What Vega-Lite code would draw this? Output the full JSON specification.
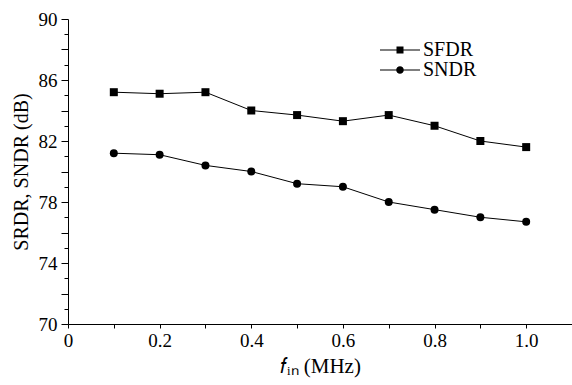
{
  "$schema": "https://vega.github.io/schema/vega-lite/v6.json",
  "width": 504,
  "height": 305,
  "autosize": {"type": "none"},
  "padding": {"left": 68, "top": 19, "right": 0, "bottom": 61},
  "background": "white",
  "config": {
    "view": {"stroke": null},
    "font": "Liberation Serif",
    "axis": {"labelFont": "Liberation Serif", "titleFont": "Liberation Serif"},
    "legend": {"labelFont": "Liberation Serif", "titleFont": "Liberation Serif"}
  },
  "data": {
    "values": [
      {"f": 0.1, "series": "SFDR", "v": 85.2},
      {"f": 0.2, "series": "SFDR", "v": 85.1},
      {"f": 0.3, "series": "SFDR", "v": 85.2},
      {"f": 0.4, "series": "SFDR", "v": 84.0},
      {"f": 0.5, "series": "SFDR", "v": 83.7},
      {"f": 0.6, "series": "SFDR", "v": 83.3},
      {"f": 0.7, "series": "SFDR", "v": 83.7},
      {"f": 0.8, "series": "SFDR", "v": 83.0},
      {"f": 0.9, "series": "SFDR", "v": 82.0},
      {"f": 1.0, "series": "SFDR", "v": 81.6},
      {"f": 0.1, "series": "SNDR", "v": 81.2},
      {"f": 0.2, "series": "SNDR", "v": 81.1},
      {"f": 0.3, "series": "SNDR", "v": 80.4},
      {"f": 0.4, "series": "SNDR", "v": 80.0},
      {"f": 0.5, "series": "SNDR", "v": 79.2},
      {"f": 0.6, "series": "SNDR", "v": 79.0},
      {"f": 0.7, "series": "SNDR", "v": 78.0},
      {"f": 0.8, "series": "SNDR", "v": 77.5},
      {"f": 0.9, "series": "SNDR", "v": 77.0},
      {"f": 1.0, "series": "SNDR", "v": 76.7}
    ]
  },
  "encoding": {
    "x": {
      "field": "f",
      "type": "quantitative",
      "scale": {"domain": [0, 1.1], "nice": false, "zero": false},
      "axis": {
        "values": [0, 0.1, 0.2, 0.3, 0.4, 0.5, 0.6, 0.7, 0.8, 0.9, 1.0],
        "labelExpr": "round(datum.value * 10) % 2 == 0 ? (datum.value == 0 ? '0' : format(datum.value, '.1f')) : ''",
        "grid": false,
        "domainColor": "black",
        "tickColor": "black",
        "tickSize": 4,
        "labelColor": "black",
        "labelFontSize": 19,
        "labelPadding": 3,
        "labelOverlap": false,
        "labelFlush": false,
        "title": "𝑓ᵢₙ (MHz)",
        "titleFontSize": 21,
        "titleFontWeight": "normal",
        "titleColor": "black",
        "titlePadding": 5
      }
    },
    "y": {
      "field": "v",
      "type": "quantitative",
      "scale": {"domain": [70, 90], "nice": false, "zero": false},
      "axis": {
        "values": [70, 71, 72, 73, 74, 75, 76, 77, 78, 79, 80, 81, 82, 83, 84, 85, 86, 87, 88, 89, 90],
        "labelExpr": "(datum.value - 70) % 4 == 0 ? datum.label : ''",
        "grid": false,
        "domainColor": "black",
        "tickColor": "black",
        "tickSize": {"condition": {"test": "datum.value % 2 == 0", "value": 7}, "value": 4},
        "labelColor": "black",
        "labelFontSize": 19,
        "labelPadding": 4,
        "labelOverlap": false,
        "labelFlush": false,
        "title": "SRDR, SNDR (dB)",
        "titleFontSize": 20,
        "titleFontWeight": "normal",
        "titleColor": "black",
        "titlePadding": 7
      }
    }
  },
  "layer": [
    {
      "mark": {"type": "line", "color": "black", "strokeWidth": 1},
      "encoding": {"detail": {"field": "series", "type": "nominal"}}
    },
    {
      "mark": {"type": "point", "filled": true, "color": "black", "opacity": 1, "size": 64},
      "encoding": {
        "shape": {"condition": {"test": "datum.series === 'SFDR'", "value": "square"}, "value": "circle"}
      }
    },
    {
      "mark": {"type": "point", "filled": true, "color": "black", "opacity": 0, "size": 400},
      "encoding": {
        "shape": {
          "field": "series",
          "type": "nominal",
          "scale": {
            "domain": ["SFDR", "SNDR"],
            "range": [
              "M-1,-0.06H3V0.06H-1ZM0.65,-0.35H1.35V0.35H0.65Z",
              "M-1,-0.06H3V0.06H-1ZM1.38,0A0.38,0.38,0,1,1,0.62,0A0.38,0.38,0,1,1,1.38,0Z"
            ]
          },
          "legend": {
            "title": null,
            "orient": "none",
            "legendX": 312,
            "legendY": 21,
            "padding": 0,
            "symbolSize": 400,
            "symbolStrokeWidth": 0,
            "symbolOpacity": 1,
            "symbolFillColor": "black",
            "labelFontSize": 20,
            "labelColor": "black",
            "labelOffset": 23,
            "rowPadding": -1
          }
        }
      }
    }
  ]
}
